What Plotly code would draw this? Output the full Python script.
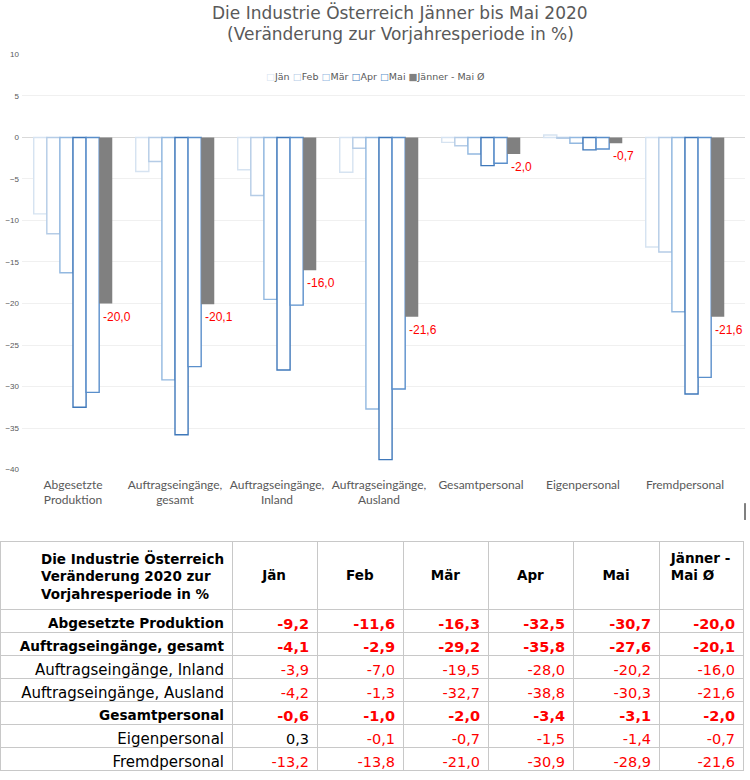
import plotly.graph_objects as go
import plotly.io as pio

categories = ["Abgesetzte Produktion", "Auftragseingänge, gesamt", "Auftragseingänge, Inland",
              "Auftragseingänge, Ausland", "Gesamtpersonal", "Eigenpersonal", "Fremdpersonal"]
tick_labels = ["Abgesetzte<br>Produktion", "Auftragseingänge,<br>gesamt", "Auftragseingänge,<br>Inland",
               "Auftragseingänge,<br>Ausland", "Gesamtpersonal", "Eigenpersonal", "Fremdpersonal"]
series_names = ["Jän", "Feb", "Mär", "Apr", "Mai", "Jänner - Mai Ø"]
jan = [-9.2, -4.1, -3.9, -4.2, -0.6, 0.3, -13.2]
feb = [-11.6, -2.9, -7.0, -1.3, -1.0, -0.1, -13.8]
mar = [-16.3, -29.2, -19.5, -32.7, -2.0, -0.7, -21.0]
apr = [-32.5, -35.8, -28.0, -38.8, -3.4, -1.5, -30.9]
mai = [-30.7, -27.6, -20.2, -30.3, -3.1, -1.4, -28.9]
avg = [-20.0, -20.1, -16.0, -21.6, -2.0, -0.7, -21.6]
y_ticks = [10, 5, 0, -5, -10, -15, -20, -25, -30, -35, -40]

title_lines = ["Die Industrie Österreich Jänner bis Mai 2020",
               "(Veränderung zur Vorjahresperiode in %)"]
table_header = ["Die Industrie Österreich<br>Veränderung 2020 zur<br>Vorjahresperiode in %",
                "\u00a0<br>Jän", "\u00a0<br>Feb", "\u00a0<br>Mär", "\u00a0<br>Apr", "\u00a0<br>Mai",
                "Jänner -<br>Mai Ø"]
bold_rows = [True, True, False, False, True, False, False]

outline_colors = ["#D6E3F1", "#B5CCE6", "#92B8E0", "#3F78BA", "#5A8FCB"]
avg_color = "#808080"

def fmt(v):
    return f"{v:.1f}".replace(".", ",")

fig = go.Figure()
month_series = [jan, feb, mar, apr, mai]
for name, vals, col in zip(series_names[:5], month_series, outline_colors):
    fig.add_trace(go.Bar(
        x=categories, y=vals, name=name, showlegend=False,
        marker=dict(color="white", line=dict(color=col, width=1.4)),
        hoverinfo="skip"))
fig.add_trace(go.Bar(
    x=categories, y=avg, name=series_names[5], showlegend=False,
    marker=dict(color=avg_color, line=dict(width=0)),
    hoverinfo="skip"))

for c, v in zip(categories, avg):
    fig.add_annotation(x=c, y=v, xref="x", yref="y", text=fmt(v), showarrow=False,
                       xanchor="left", yanchor="top", xshift=28, yshift=-4,
                       font=dict(family="Liberation Sans", size=12, color="#FF0000"))

# compact legend as text
legend_parts = []
for name, col in zip(series_names[:5], outline_colors):
    legend_parts.append(f"<span style='color:{col}'>□</span>{name}")
legend_parts.append(f"<span style='color:{avg_color}'>■</span>{series_names[5]}")
fig.add_annotation(x=375 / 750, y=1 - 73 / 780, xref="paper", yref="paper",
                   text=" ".join(legend_parts), showarrow=False, xanchor="center", yanchor="middle",
                   font=dict(family="DejaVu Sans", size=9.5, color="#595959"))

for i, line in enumerate(title_lines):
    fig.add_annotation(x=400 / 750, y=1 - (9 + 21 * i) / 780, xref="paper", yref="paper",
                       text=line, showarrow=False, xanchor="center", yanchor="middle",
                       font=dict(family="DejaVu Sans", size=17, color="#595959"))

# table
cols = [categories]
colors_cols = [["black"] * 7]
for vals in month_series + [avg]:
    cols.append([fmt(v) for v in vals])
    colors_cols.append(["#FF0000" if v < 0 else "black" for v in vals])
weights = [["bold" if b else "normal" for b in bold_rows] for _ in cols]
sizes = [[13.6 if b else 15 for b in bold_rows]] + [[14.5] * 7 for _ in cols[1:]]

fig.add_trace(go.Table(
    domain=dict(x=[0.0, 743 / 750], y=[0.0, 236 / 780]),
    columnwidth=[232, 85, 86, 85, 85, 86, 84],
    header=dict(values=table_header,
                align=["right", "center", "center", "center", "center", "center", "center"],
                font=dict(family="DejaVu Sans", size=13.5, color="black", weight="bold"),
                fill_color="white", line=dict(color="#C8C8C8", width=1), height=62),
    cells=dict(values=cols, align="right",
               font=dict(family="DejaVu Sans", size=14.5, color=colors_cols),
               fill_color="white", line=dict(color="#C8C8C8", width=1), height=23)
))

fig.add_shape(type="line", xref="paper", yref="paper", x0=745 / 750, x1=745 / 750,
              y0=1 - 505 / 780, y1=1 - 522 / 780, line=dict(color="black", width=1))

fig.update_layout(
    width=750, height=780,
    margin=dict(l=0, r=0, t=0, b=0),
    paper_bgcolor="white", plot_bgcolor="white",
    barmode="group", bargap=0.23, bargroupgap=0,
    showlegend=False,
    xaxis=dict(domain=[22 / 750, 745 / 750], tickmode="array", tickvals=categories, ticktext=tick_labels,
               showgrid=False, showline=False, ticks="", zeroline=False, ticklabelstandoff=6,
               tickfont=dict(family="Lato", size=12, color="#595959"), anchor="y"),
    yaxis=dict(domain=[309 / 780, 729 / 780], range=[-40, 10], tickvals=y_ticks,
               showgrid=True, gridcolor="#F0F0F0", zeroline=True, zerolinecolor="#D9D9D9",
               zerolinewidth=1, showline=False, ticks="", ticklabelstandoff=2,
               tickfont=dict(family="Liberation Sans", size=8, color="#595959")),
)

fig_dict = fig.to_dict()
fig_dict["data"][-1]["cells"]["font"]["weight"] = weights
fig_dict["data"][-1]["cells"]["font"]["size"] = sizes

pio.write_html(fig_dict, "out.html", validate=False, config={"displayModeBar": False},
               post_script="document.body.style.margin='0px';document.body.style.overflow='hidden';")
